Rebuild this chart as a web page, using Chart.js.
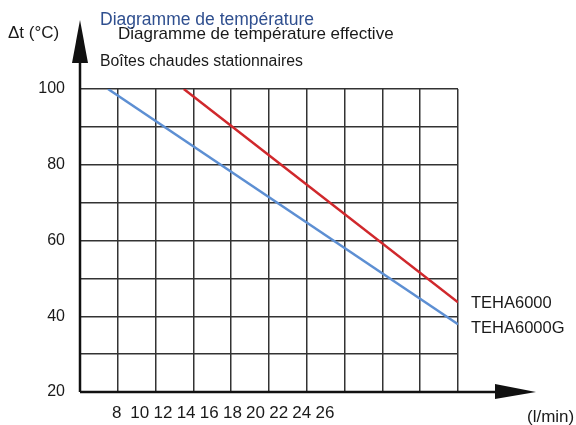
<!DOCTYPE html>
<html>
<head>
<meta charset="utf-8">
<script src="https://cdn.jsdelivr.net/npm/chart.js@4/dist/chart.umd.min.js"></script>
<style>
  html, body { margin: 0; padding: 0; background: #fff; }
  #wrap { position: relative; width: 576px; height: 425px; }
</style>
</head>
<body>
<div id="wrap"><canvas id="chart"></canvas></div>
<script>
// x ticks (l/min) and y ticks (°C)
const xTicks = [8, 10, 12, 14, 16, 18, 20, 22, 24, 26];
const yTicks = [20, 40, 60, 80, 100];

// series (x in l/min, y in °C)
const tehaX = [13.8, 37.5];
const tehaY = [100, 43.7];
const tehaGX = [7.25, 37.5];
const tehaGY = [100, 37.9];

const seriesNames = ['TEHA6000', 'TEHA6000G'];
const labelShift = [1, 4];
const FONT = '"Liberation Sans", Arial, sans-serif';
const INK = '#1a1a1a';

const toPoints = (xs, ys) => xs.map((x, i) => ({ x, y: ys[i] }));

const decorations = {
  id: 'decorations',
  afterDraw(chart) {
    const { ctx, chartArea: a } = chart;
    ctx.save();

    // axes with arrows
    ctx.strokeStyle = '#111';
    ctx.fillStyle = '#111';
    ctx.lineWidth = 2.5;
    ctx.beginPath();
    ctx.moveTo(a.left, a.bottom);
    ctx.lineTo(a.left, 60);
    ctx.moveTo(a.left, a.bottom);
    ctx.lineTo(a.right + 40, a.bottom);
    ctx.stroke();

    ctx.beginPath();
    ctx.moveTo(a.left - 8, 63);
    ctx.lineTo(a.left + 8, 63);
    ctx.lineTo(a.left, 20);
    ctx.closePath();
    ctx.fill();

    ctx.beginPath();
    ctx.moveTo(a.right + 37, a.bottom - 8);
    ctx.lineTo(a.right + 37, a.bottom + 7);
    ctx.lineTo(a.right + 78, a.bottom);
    ctx.closePath();
    ctx.fill();

    // texts
    ctx.textAlign = 'left';
    ctx.textBaseline = 'middle';
    ctx.fillStyle = '#2f4f8f';
    ctx.font = '17.5px ' + FONT;
    ctx.fillText('Diagramme de température', 100, 20);

    ctx.fillStyle = INK;
    ctx.font = '17px ' + FONT;
    ctx.fillText('Diagramme de température effective', 118, 34);
    ctx.fillText('\u0394t (°C)', 8, 33);
    ctx.fillText('(l/min)', 527, 417);

    ctx.font = '15.8px ' + FONT;
    ctx.fillText('Boîtes chaudes stationnaires', 100, 62);

    // series labels at line ends
    ctx.font = '16.5px ' + FONT;
    chart.data.datasets.forEach((ds, i) => {
      const meta = chart.getDatasetMeta(i);
      const last = meta.data[meta.data.length - 1];
      ctx.fillText(seriesNames[i], a.right + 13, last.y + labelShift[i]);
    });

    ctx.restore();
  }
};

new Chart(document.getElementById('chart'), {
  type: 'line',
  data: {
    datasets: [
      {
        label: seriesNames[0],
        data: toPoints(tehaX, tehaY),
        borderColor: '#d0282c',
        borderWidth: 2.5,
        pointRadius: 0,
        xAxisID: 'x'
      },
      {
        label: seriesNames[1],
        data: toPoints(tehaGX, tehaGY),
        borderColor: '#5d8fd3',
        borderWidth: 2.5,
        pointRadius: 0,
        xAxisID: 'x'
      }
    ]
  },
  options: {
    responsive: true,
    maintainAspectRatio: false,
    animation: false,
    layout: { padding: { top: 89, right: 118, left: 0, bottom: 0 } },
    plugins: {
      legend: { display: false },
      tooltip: { enabled: false }
    },
    scales: {
      x: {
        type: 'linear',
        position: 'bottom',
        min: 4.83,
        max: 37.5,
        afterBuildTicks: (s) => { s.ticks = xTicks.map(v => ({ value: v })); },
        afterFit: (s) => { s.height = 33; },
        grid: { display: false },
        border: { display: false },
        ticks: {
          color: INK,
          font: { family: FONT, size: 17 },
          padding: 3,
          maxRotation: 0,
          autoSkip: false
        }
      },
      xg: {
        type: 'linear',
        position: 'bottom',
        min: 0,
        max: 10,
        afterFit: (s) => { s.height = 0; },
        grid: { color: '#333', lineWidth: 1.5, drawTicks: false },
        border: { display: false },
        ticks: { display: false, stepSize: 1 }
      },
      y: {
        min: 20,
        max: 100,
        afterFit: (s) => { s.width = 80; },
        grid: { color: '#333', lineWidth: 1.5, drawTicks: false },
        border: { display: false },
        ticks: {
          stepSize: 10,
          color: INK,
          padding: 15,
          font: { family: FONT, size: 16 },
          callback: (v) => yTicks.includes(v) ? v : ''
        }
      }
    }
  },
  plugins: [decorations]
});
</script>
</body>
</html>
